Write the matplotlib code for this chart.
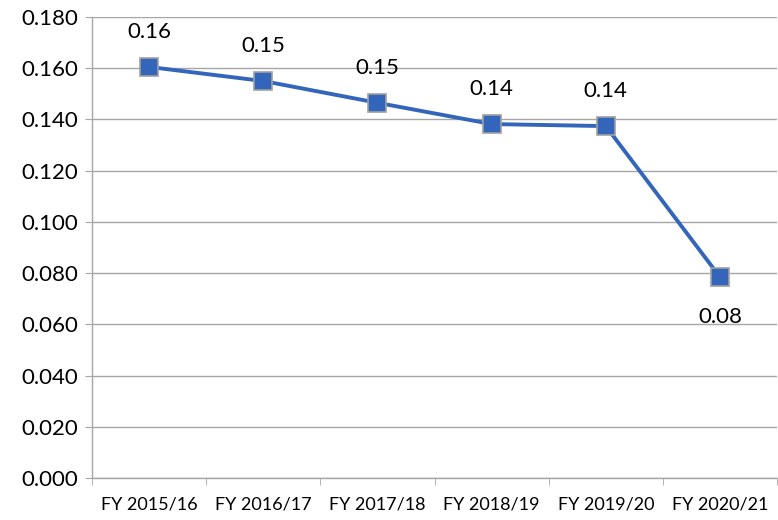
import matplotlib
matplotlib.use("Agg")
import matplotlib.pyplot as plt
import numpy as np

years = ["FY 2015/16", "FY 2016/17", "FY 2017/18", "FY 2018/19", "FY 2019/20", "FY 2020/21"]
values = [0.1605, 0.155, 0.1465, 0.1382, 0.1374, 0.0785]
labels = ["0.16", "0.15", "0.15", "0.14", "0.14", "0.08"]

plt.rcParams["font.family"] = ["Lato", "DejaVu Sans"]

fig = plt.figure(figsize=(7.78, 5.2), dpi=100)
ax = fig.add_axes([0.1183, 0.0808, 0.8804, 0.8865])

x = np.arange(len(years))
ax.plot(x, values, color="#3366BB", lw=2.8, marker="s", ms=13,
        markerfacecolor="#3366BB", markeredgecolor="#A0A0A0", markeredgewidth=1.2, zorder=3)

for i, (v, t) in enumerate(zip(values, labels)):
    if i == len(values) - 1:
        ax.annotate(t, (i, v), xytext=(0, -29), textcoords="offset points",
                    ha="center", va="center", fontsize=16)
    else:
        ax.annotate(t, (i, v), xytext=(0, 25), textcoords="offset points",
                    ha="center", va="center", fontsize=16)

ax.set_xlim(-0.5, len(years) - 0.5)
ax.set_ylim(0, 0.18)
ax.set_yticks(np.arange(0, 0.181, 0.02))
ax.set_yticklabels([f"{t:.3f}" for t in np.arange(0, 0.181, 0.02)], fontsize=16)
ax.set_xticks(x)
ax.set_xticklabels(years, fontsize=13)
ax.set_xticks(np.arange(-0.5, len(years), 1), minor=True)
ax.tick_params(axis="x", which="major", length=0, pad=13)
ax.tick_params(axis="x", which="minor", length=5, color="#A6A6A6")
ax.tick_params(axis="y", length=5, color="#A6A6A6", pad=5)

ax.grid(axis="y", color="#A6A6A6", lw=1.0)
ax.set_axisbelow(True)
for s in ["top", "right"]:
    ax.spines[s].set_visible(False)
for s in ["left", "bottom"]:
    ax.spines[s].set_color("#A6A6A6")
    ax.spines[s].set_linewidth(1.0)

fig.savefig("out.png", dpi=100)
